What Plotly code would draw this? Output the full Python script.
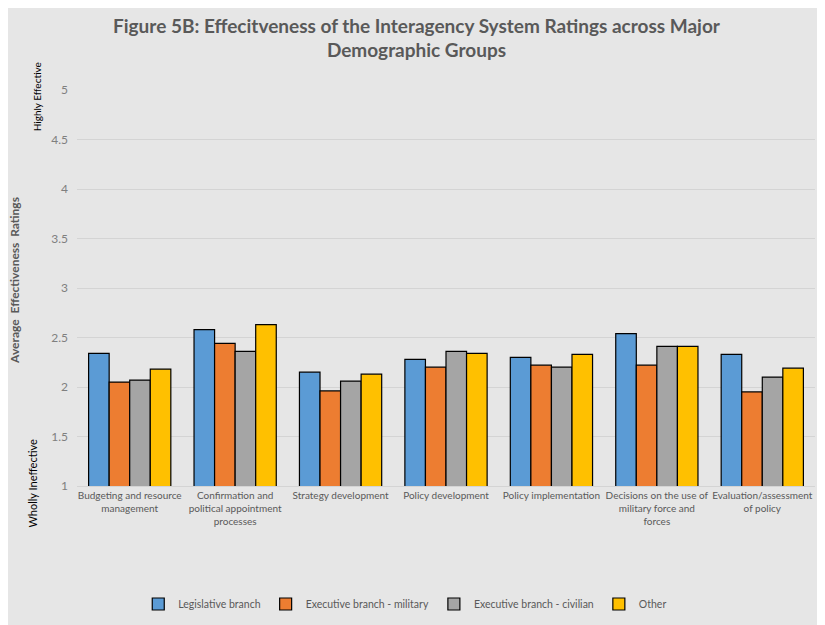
import plotly.graph_objects as go

# categories and ratings
categories = [
    "Budgeting and resource<br>management",
    "Confirmation and<br>political appointment<br>processes",
    "Strategy development",
    "Policy development",
    "Policy implementation",
    "Decisions on the use of<br>military force and<br>forces",
    "Evaluation/assessment<br>of policy",
]
legislative = [2.34, 2.58, 2.15, 2.28, 2.30, 2.54, 2.33]
exec_military = [2.05, 2.44, 1.96, 2.20, 2.22, 2.22, 1.95]
exec_civilian = [2.07, 2.36, 2.06, 2.36, 2.20, 2.41, 2.10]
other = [2.18, 2.63, 2.13, 2.34, 2.33, 2.41, 2.19]

series = [
    ("Legislative branch", legislative, "#5B9BD5"),
    ("Executive branch - military", exec_military, "#ED7D31"),
    ("Executive branch - civilian", exec_civilian, "#A5A5A5"),
    ("Other", other, "#FFC000"),
]

fig = go.Figure()
for name, vals, col in series:
    fig.add_bar(x=categories, y=vals, name=name,
                marker=dict(color=col, line=dict(color="black", width=1.2)))

# page has an 8px body margin, so the figure is a bit smaller than the window
fig.update_layout(
    width=817, height=617,
    paper_bgcolor="#e6e6e6", plot_bgcolor="#e6e6e6",
    font=dict(family="Lato, Open Sans, sans-serif", color="#595959"),
    title=dict(
        text="<b>Figure 5B: Effecitveness of the Interagency System Ratings across Major<br>Demographic Groups</b>",
        x=0.5, xanchor="center", y=0.96, yanchor="top",
        font=dict(size=19, color="#595959"),
    ),
    margin=dict(l=69, r=10, t=82, b=139, autoexpand=False),
    barmode="group", bargap=0.22, bargroupgap=0,
    legend=dict(orientation="h", x=0.083, xanchor="left",
                y=-0.298, yanchor="middle", font=dict(size=10.5, color="#595959")),
    showlegend=True,
)
fig.update_xaxes(showgrid=False, showline=True, linecolor="#d4d4d4",
                 tickfont=dict(size=10, color="#595959"), ticks="",
                 tickangle=0, automargin=False)
fig.update_yaxes(range=[1, 5], dtick=0.5, showgrid=True, gridcolor="#d4d4d4",
                 zeroline=False, tickfont=dict(size=12, color="#7f7f7f"),
                 ticks="", ticklabelstandoff=8, automargin=False)

fig.add_annotation(text="<b>Average  Effectiveness  Ratings</b>", textangle=-90,
                   xref="paper", yref="paper", x=-0.084, y=0.518,
                   xanchor="center", yanchor="middle",
                   showarrow=False, font=dict(size=12, color="#595959"))
fig.add_annotation(text="Highly Effective", textangle=-90,
                   xref="paper", yref="paper", x=-0.054, y=0.982,
                   xanchor="center", yanchor="middle",
                   showarrow=False, font=dict(size=10, color="black"))
fig.add_annotation(text="Wholly Ineffective", textangle=-90,
                   xref="paper", yref="paper", x=-0.06, y=0.008,
                   xanchor="center", yanchor="middle",
                   showarrow=False, font=dict(size=11, color="black"))

fig.write_html("out.html")
